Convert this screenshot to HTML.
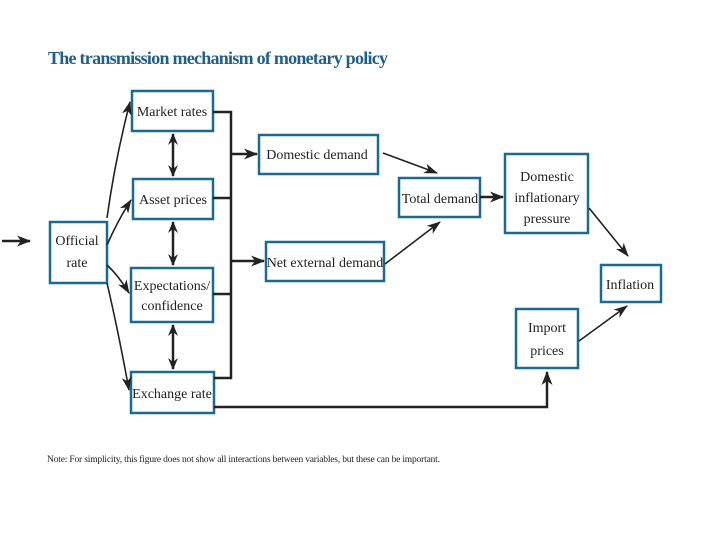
<!DOCTYPE html>
<html><head><meta charset="utf-8"><style>
html,body{margin:0;padding:0;background:#fff;}
svg{display:block;}
text{font-family:"Liberation Serif",serif;fill:#222;}
</style></head><body>
<svg width="720" height="540" viewBox="0 0 720 540" xmlns="http://www.w3.org/2000/svg">
<defs>
<marker id="a" markerWidth="14" markerHeight="10" refX="13" refY="5" orient="auto" markerUnits="userSpaceOnUse"><path d="M0,0 L14,5 L0,10 L4,5 Z" fill="#222"/></marker>
<marker id="b" markerWidth="14" markerHeight="11" refX="13" refY="5.5" orient="auto" markerUnits="userSpaceOnUse"><path d="M0,0 L14,5.5 L0,11 L4,5.5 Z" fill="#222"/></marker>
<marker id="s" markerWidth="12" markerHeight="10" refX="1" refY="5" orient="auto" markerUnits="userSpaceOnUse"><path d="M12,0 L0,5 L12,10 L8,5 Z" fill="#222"/></marker>
<marker id="e" markerWidth="12" markerHeight="10" refX="11" refY="5" orient="auto" markerUnits="userSpaceOnUse"><path d="M0,0 L12,5 L0,10 L4,5 Z" fill="#222"/></marker>
</defs>
<text x="48" y="64" font-size="18" font-weight="bold" style="fill:#1f5f8b" textLength="340">The transmission mechanism of monetary policy</text>

<g fill="#fff" stroke="#1b6a8f" stroke-width="2.5">
<rect x="132" y="91" width="81" height="40"/>
<rect x="133" y="179" width="80" height="40"/>
<rect x="131" y="268" width="82" height="54"/>
<rect x="131" y="372" width="83" height="41"/>
<rect x="50" y="222" width="57" height="61"/>
<rect x="259" y="135" width="119" height="39"/>
<rect x="266" y="242" width="118" height="39"/>
<rect x="399" y="178" width="81" height="39"/>
<rect x="505" y="154" width="83" height="79"/>
<rect x="601" y="265" width="60" height="37"/>
<rect x="516" y="309" width="62" height="59"/>
</g>

<g font-size="14" text-anchor="middle">
<text x="172" y="116">Market rates</text>
<text x="173" y="204">Asset prices</text>
<text x="172" y="290">Expectations/</text>
<text x="172" y="310">confidence</text>
<text x="172" y="398">Exchange rate</text>
<text x="77" y="245">Official</text>
<text x="77" y="267">rate</text>
<text x="317" y="159">Domestic demand</text>
<text x="325" y="267">Net external demand</text>
<text x="440" y="203">Total demand</text>
<text x="547" y="181">Domestic</text>
<text x="547" y="202">inflationary</text>
<text x="547" y="223">pressure</text>
<text x="630" y="289">Inflation</text>
<text x="547" y="332">Import</text>
<text x="547" y="355">prices</text>
</g>

<g stroke="#222" stroke-width="2.5" fill="none">
<polyline points="213,112 231,112 231,378 214,378"/>
<line x1="213" y1="198" x2="231" y2="198"/>
<line x1="213" y1="294" x2="231" y2="294"/>
<line x1="231" y1="154" x2="257" y2="154" marker-end="url(#b)"/>
<line x1="231" y1="261" x2="264" y2="261" marker-end="url(#b)"/>
<polyline points="214,407 547,407 547,372" marker-end="url(#b)"/>
<line x1="173" y1="134" x2="173" y2="176" marker-start="url(#s)" marker-end="url(#e)"/>
<line x1="173" y1="222" x2="173" y2="265" marker-start="url(#s)" marker-end="url(#e)"/>
<line x1="173" y1="325" x2="173" y2="369" marker-start="url(#s)" marker-end="url(#e)"/>
<line x1="480" y1="197" x2="503" y2="197" marker-end="url(#b)"/>
</g>
<g stroke="#222" stroke-width="1.6" fill="none">
<path d="M107,218 Q115,160 130,102" marker-end="url(#a)"/>
<path d="M107,245 Q118,220 131,200" marker-end="url(#a)"/>
<path d="M107,265 Q118,275 129,293" marker-end="url(#a)"/>
<path d="M107,283 Q118,330 129,390" marker-end="url(#a)"/>
<line x1="383" y1="153" x2="437" y2="173" marker-end="url(#a)"/>
<line x1="385" y1="264" x2="440" y2="222" marker-end="url(#a)"/>
<line x1="589" y1="208" x2="628" y2="256" marker-end="url(#a)"/>
<line x1="579" y1="341" x2="627" y2="306" marker-end="url(#a)"/>
<line x1="2" y1="241" x2="30" y2="241" stroke-width="2.5" marker-end="url(#b)"/>
</g>
<text x="47" y="462" font-size="9.5" textLength="393">Note:  For simplicity, this figure does not show all interactions between variables, but these can be important.</text>
</svg>
</body></html>
